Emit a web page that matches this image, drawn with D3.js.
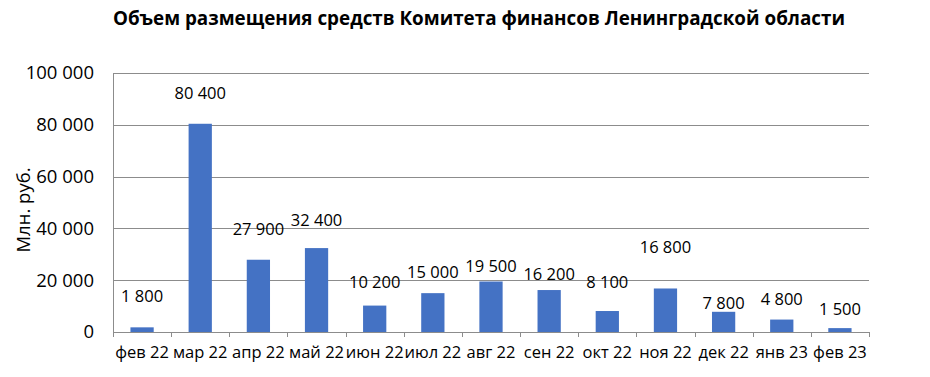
<!DOCTYPE html>
<html>
<head>
<meta charset="utf-8">
<script src="https://cdn.jsdelivr.net/npm/d3@7"></script>
<style>
  body { margin: 0; background: #fff; }
  text { font-family: "Open Sans", sans-serif; fill: #000; }
</style>
</head>
<body>
<div id="chart"></div>
<script>
"use strict"

const WIDTH = 930;
const HEIGHT = 377;
const MARGIN = { top: 73, right: 61, bottom: 45, left: 113 };
const BAR_COLOR = "#4472C4";
const GRID_COLOR = "#8c8c8c";

// data
const months = ["фев 22", "мар 22", "апр 22", "май 22", "июн 22", "июл 22", "авг 22",
	"сен 22", "окт 22", "ноя 22", "дек 22", "янв 23", "фев 23"];
const amounts = [1800, 80400, 27900, 32400, 10200, 15000, 19500, 16200, 8100, 16800, 7800, 4800, 1500];
// where each data label sits, in axis units (labels were moved by hand in the original)
const labelLevels = [13900, 92200, 39600, 43000, 19400, 22900, 25500, 22400, 19400, 32800, 11200, 12700, 8900];
const yTicks = [0, 20000, 40000, 60000, 80000, 100000];

const fmt = function(v) { return d3.format(",")(v).replace(/,/g, " "); };

const innerW = WIDTH - MARGIN.left - MARGIN.right;
const innerH = HEIGHT - MARGIN.top - MARGIN.bottom;

const svg = d3.select("#chart")
	.append("svg")
	.attr("width", WIDTH)
	.attr("height", HEIGHT);

const x = d3.scaleBand()
	.domain(months)
	.range([0, innerW])
	.paddingInner(0.6)
	.paddingOuter(0.3);

const y = d3.scaleLinear()
	.domain([0, 100000])
	.range([innerH, 0]);

const g = svg.append("g")
	.attr("transform", "translate(" + MARGIN.left + "," + MARGIN.top + ")");

// horizontal gridlines
g.selectAll(".grid")
	.data(yTicks.slice(1))
	.enter()
		.append("line")
		.attr("class", "grid")
		.attr("x1", 0)
		.attr("x2", innerW)
		.attr("y1", function(d) { return Math.round(y(d)) + 0.5; })
		.attr("y2", function(d) { return Math.round(y(d)) + 0.5; })
		.style("stroke", GRID_COLOR)
		.style("stroke-width", 1);

// y axis
const yAxis = g.append("g")
	.call(d3.axisLeft(y).tickValues(yTicks).tickSize(0).tickPadding(19).tickFormat(fmt));
yAxis.select(".domain").style("stroke", GRID_COLOR).attr("d", "M0.5," + (innerH + 5) + "V0");
yAxis.selectAll("text")
	.style("font-size", "18.5px")
	.style("font-family", "'Open Sans', sans-serif");

// bars
g.selectAll(".bar")
	.data(amounts)
	.enter()
		.append("rect")
		.attr("class", "bar")
		.attr("x", function(d, i) { return x(months[i]); })
		.attr("width", x.bandwidth())
		.attr("y", function(d) { return y(d); })
		.attr("height", function(d) { return innerH - y(d); })
		.style("fill", BAR_COLOR);

// x axis with ticks on category boundaries
const xAxis = g.append("g")
	.attr("transform", "translate(0," + innerH + ")")
	.call(d3.axisBottom(x).tickSize(0).tickPadding(14));
xAxis.select(".domain").style("stroke", GRID_COLOR).attr("d", "M0," + 0.5 + "H" + innerW);
xAxis.selectAll("text")
	.style("font-size", "16.5px")
	.style("font-family", "'Open Sans', sans-serif");

g.selectAll(".xtick")
	.data(d3.range(months.length + 1))
	.enter()
		.append("line")
		.attr("class", "xtick")
		.attr("x1", function(i) { return Math.round(i * x.step()) + 0.5; })
		.attr("x2", function(i) { return Math.round(i * x.step()) + 0.5; })
		.attr("y1", innerH)
		.attr("y2", innerH + 5)
		.style("stroke", GRID_COLOR);

// data labels
g.selectAll(".lbl")
	.data(amounts)
	.enter()
		.append("text")
		.attr("class", "lbl")
		.attr("x", function(d, i) { return x(months[i]) + x.bandwidth() / 2; })
		.attr("y", function(d, i) { return y(labelLevels[i]); })
		.attr("dy", "0.35em")
		.attr("text-anchor", "middle")
		.style("font-size", "16.5px")
		.text(fmt);

// y axis title
svg.append("text")
	.attr("transform", "translate(24,210) rotate(-90)")
	.attr("text-anchor", "middle")
	.attr("dy", "0.35em")
	.style("font-size", "18.5px")
	.text("Млн. руб.");

// chart title
svg.append("text")
	.attr("x", 479)
	.attr("y", 18)
	.attr("dy", "0.35em")
	.attr("text-anchor", "middle")
	.attr("textLength", 732)
	.attr("lengthAdjust", "spacingAndGlyphs")
	.style("font-size", "20px")
	.style("font-weight", "bold")
	.text("Объем размещения средств Комитета финансов Ленинградской области");
</script>
</body>
</html>
